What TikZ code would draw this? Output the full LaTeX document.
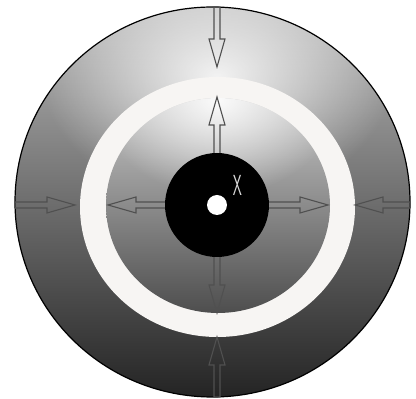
\documentclass[tikz,border=0pt]{standalone}
\usetikzlibrary{fadings}
\definecolor{ringwhite}{HTML}{F7F5F3}
\definecolor{arrowgray}{HTML}{505050}
\definecolor{xgray}{HTML}{D8D8D8}
\definecolor{otop}{HTML}{B8B8B8}
\definecolor{omid}{HTML}{6C6C6C}
\definecolor{obot}{HTML}{242424}
\definecolor{itop}{HTML}{C8C8C8}
\definecolor{imid}{HTML}{8C8C8C}
\definecolor{ibot}{HTML}{4E4E4E}
\tikzfading[name=glowfade, inner color=transparent!0, outer color=transparent!100]
\tikzset{
  arrowline/.style={draw=arrowgray, line width=1.1pt, line join=miter},
  pics/hollowarrow/.style={code={
    \draw[arrowline] (0,-3) -- ({#1-28},-3) -- ({#1-28},-8) -- (#1,0) -- ({#1-28},8) -- ({#1-28},3) -- (0,3) -- cycle;}},
}
\begin{document}
\begin{tikzpicture}[x=1pt,y=1pt]
\useasboundingbox (0,0) rectangle (416,399);
\fill[white] (0,0) rectangle (416,399);
\coordinate (O) at (212.5,197);
\coordinate (C) at (217,194);
% outer disk
\begin{scope}
  \clip (O) ellipse (197.5 and 195);
  \shade[top color=otop, middle color=omid, bottom color=obot] (15,2) rectangle (410,392);
  \fill[white, path fading=glowfade, fill opacity=0.88] (217,322) ellipse (175 and 125);
\end{scope}
\draw[black, line width=1.2pt] (O) ellipse (197.5 and 195);
% white ring
\fill[ringwhite] (217.5,192) ellipse (137.5 and 130);
% inner disk
\begin{scope}
  \clip (218,193.5) ellipse (112 and 107.5);
  \shade[top color=itop, middle color=imid, bottom color=ibot] (106,86) rectangle (330,301);
  \fill[white, path fading=glowfade, fill opacity=0.92] (218,299) ellipse (120 and 95);
\end{scope}
% outer arrows
\pic[rotate=-90] at (217,392) {hollowarrow=60};
\pic[rotate=90] at (217,2) {hollowarrow=60};
\pic at (15,194) {hollowarrow=60};
\pic[rotate=180] at (410,194) {hollowarrow=55};
% inner arrows
\pic[rotate=90] at (217,240) {hollowarrow=62};
\pic[rotate=-90] at (217,148) {hollowarrow=62};
\pic[rotate=180] at (172,194) {hollowarrow=64};
\pic at (262,194) {hollowarrow=66};
% black disc and centre dot
\fill[black] (C) circle (52);
\fill[white] (C) circle (10);
\node[text=xgray, font=\fontsize{29}{29}\sffamily, xscale=0.5, transform shape, inner sep=0pt] (xlabel) at (237.5,214) {X};
\end{tikzpicture}
\end{document}
